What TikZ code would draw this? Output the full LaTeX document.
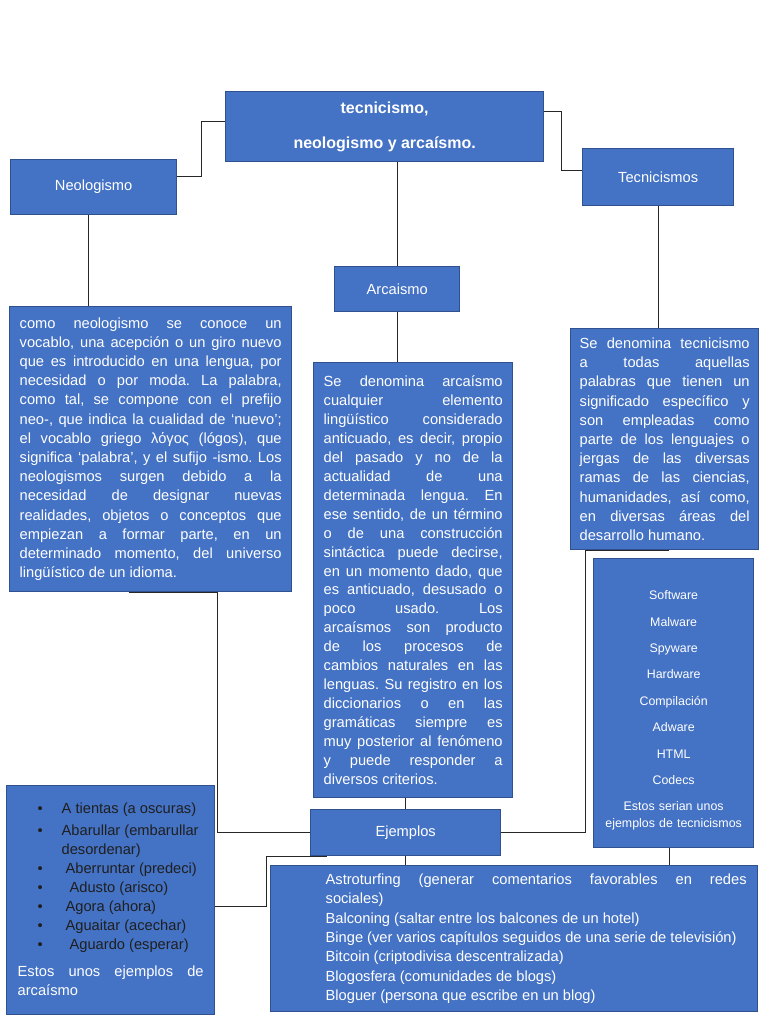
\documentclass[tikz,border=0pt]{standalone}
\usepackage{fontspec}
\setmainfont{Liberation Sans}
\usepackage{xcolor}
\definecolor{azul}{HTML}{4472C4}
\definecolor{bordeazul}{HTML}{2F528F}
\definecolor{textolista}{HTML}{1F1F1F}
\setlength{\parindent}{0pt}
\frenchspacing
\tolerance=10000
\hbadness=10000
\hyphenpenalty=10000
\exhyphenpenalty=10000
\newcommand{\vineta}[2][0pt]{\par\hangindent=33pt\hangafter=1\noindent\makebox[33pt][l]{\hspace{15pt}\textbullet}\hspace{#1}#2}

\begin{document}
\begin{tikzpicture}[x=0.75pt, y=-0.75pt,
    caja/.style={draw=bordeazul, fill=azul, line width=1pt, text=white, inner sep=0pt, anchor=north west},
    etiqueta/.style={caja, font=\fontsize{11}{13}\selectfont},
    textos/.style={caja, align=justify, font=\fontsize{11}{14.4}\selectfont},
    linea/.style={draw=black!85, line width=0.7pt}]
        \useasboundingbox (0,0) rectangle (768,1024);

        \node[caja, align=center, minimum width=238.5pt, minimum height=52.5pt, font=\fontsize{12}{26.25}\selectfont\bfseries] (tema) at (225,91) {tecnicismo,\\neologismo y arcaísmo.};
        \node[etiqueta, minimum width=124.5pt, minimum height=41.25pt]   (neo)  at (10,159)  {Neologismo};
        \node[etiqueta, minimum width=113.25pt, minimum height=42.75pt]  (tec)  at (582,148) {Tecnicismos};
        \node[etiqueta, minimum width=93.75pt, minimum height=33.75pt]   (arc)  at (334,266) {Arcaismo};
        \node[etiqueta, minimum width=142.5pt, minimum height=34.5pt]    (ej)   at (310,809) {Ejemplos};

        \node[textos, text width=196.5pt, inner xsep=7.5pt, minimum height=213.75pt] (neotxt) at (9,306) {como neologismo se conoce un\linebreak vocablo, una acepción o un giro nuevo\linebreak que es introducido en una lengua, por\linebreak necesidad o por moda. La palabra,\linebreak como tal, se compone con el prefijo\linebreak neo-, que indica la cualidad de ‘nuevo’;\linebreak el vocablo griego λόγος (lógos), que\linebreak significa ‘palabra’, y el sufijo -ismo. Los\linebreak neologismos surgen debido a la\linebreak necesidad de designar nuevas\linebreak realidades, objetos o conceptos que\linebreak empiezan a formar parte, en un\linebreak determinado momento, del universo\linebreak lingüístico de un idioma.\par};
        \node[textos, text width=134.25pt, inner xsep=7.5pt, minimum height=326.25pt, font=\fontsize{11}{14.2}\selectfont] (arctxt) at (313,362) {Se denomina arcaísmo\linebreak cualquier elemento\linebreak lingüístico considerado\linebreak anticuado, es decir, propio\linebreak del pasado y no de la\linebreak actualidad de una\linebreak determinada lengua. En\linebreak ese sentido, de un término\linebreak o de una construcción\linebreak sintáctica puede decirse,\linebreak en un momento dado, que\linebreak es anticuado, desusado o\linebreak poco usado. Los\linebreak arcaísmos son producto\linebreak de los procesos de\linebreak cambios naturales en las\linebreak lenguas. Su registro en los\linebreak diccionarios o en las\linebreak gramáticas siempre es\linebreak muy posterior al fenómeno\linebreak y puede responder a\linebreak diversos criterios.\par};
        \node[textos, text width=127.5pt, inner xsep=6.75pt, minimum height=165.75pt] (tectxt) at (570,328) {Se denomina tecnicismo\linebreak a todas aquellas\linebreak palabras que tienen un\linebreak significado específico y\linebreak son empleadas como\linebreak parte de los lenguajes o\linebreak jergas de las diversas\linebreak ramas de las ciencias,\linebreak humanidades, así como,\linebreak en diversas áreas del\linebreak desarrollo humano.\par};

        \node[caja, align=center, text width=105pt, inner xsep=7.5pt, minimum height=216.75pt, font=\fontsize{9.3}{19.8}\selectfont] (tecej) at (593,558) {\rule{0pt}{18pt}Software\\Malware\\Spyware\\Hardware\\Compilación\\Adware\\HTML\\Codecs\\Estos serian unos\\[-7.05pt]ejemplos de tecnicismos};
        \node[textos, text width=139.5pt, inner xsep=8.25pt, minimum height=171.75pt, font=\fontsize{11}{14.25}\selectfont] (arcej) at (6,785) {{\color{textolista}\vineta{A tientas (a oscuras)}\par\vspace{2.25pt}\vineta{Abarullar (embarullar\\desordenar)}\vineta[3pt]{Aberruntar (predeci)}\vineta[6pt]{Adusto (arisco)}\vineta[3pt]{Agora (ahora)}\vineta[3pt]{Aguaitar (acechar)}\vineta[6pt]{Aguardo (esperar)}\par}\vspace{6.5pt}Estos unos ejemplos de\linebreak arcaísmo\par\vspace{7.5pt}};
        \node[textos, text width=348.75pt, inner xsep=8.25pt, minimum height=109.5pt, font=\fontsize{11}{14.55}\selectfont] (grande) at (270,865) {\leftskip=33pt Astroturfing (generar comentarios favorables en redes\linebreak sociales)\par Balconing (saltar entre los balcones de un hotel)\par Binge (ver varios capítulos seguidos de una serie de televisión)\par Bitcoin (criptodivisa descentralizada)\par Blogosfera (comunidades de blogs)\par Bloguer (persona que escribe en un blog)\par};

        \draw[linea] ([yshift=3.75pt]tema.west) -- ++(-24,0) |- ([yshift=7.9pt]neo.east);
        \draw[linea] ([yshift=11.25pt]tema.east) -- ++(17,0) |- ([yshift=4.9pt]tec.west);
        \draw[linea] (arc.north) -- (arc.north |- tema.south);
        \draw[linea] ([xshift=-3.75pt]neo.south) -- ([xshift=-3.75pt]neo.south |- neotxt.north);
        \draw[linea] (arc.south) -- (arc.south |- arctxt.north);
        \draw[linea] (tec.south) -- (tec.south |- tectxt.north);
        \draw[linea] ([xshift=-16.5pt]neotxt.south) -- ([xshift=50.25pt]neotxt.south) |- (ej.west);
        \draw[linea] ([xshift=3pt]tectxt.south) -- ([xshift=-59.25pt]tectxt.south) |- (ej.east);
        \draw[linea] (ej.north) -- (ej.north |- arctxt.south);
        \draw[linea] (ej.south) -- (ej.south |- grande.north);
        \draw[linea] ([xshift=-3pt]tecej.south) -- ([xshift=-3pt]tecej.south |- grande.north);
        \draw[linea] ([yshift=-4.5pt]arcej.east) -- ++(51,0) |- ([xshift=12.75pt]ej.south west);

      \end{tikzpicture}
\end{document}
